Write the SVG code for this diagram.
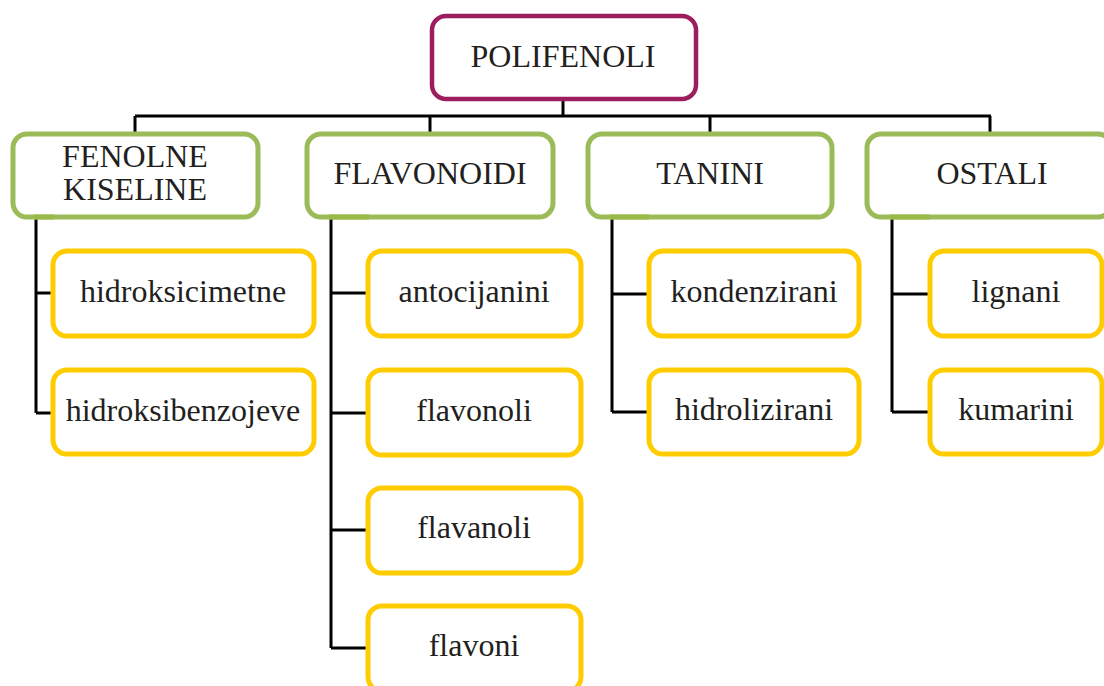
<svg xmlns="http://www.w3.org/2000/svg" width="1104" height="686" viewBox="0 0 1104 686">
<style>
.root{fill:#fff;stroke:#9C1E5E;stroke-width:4.5}
.cat{fill:#fff;stroke:#9BBB59;stroke-width:5}
.sub{fill:#fff;stroke:#FFCC00;stroke-width:5}
.mark{stroke:#9AB847;stroke-width:5}
.conn{fill:none;stroke:#000;stroke-width:3}
text{font-family:"Liberation Serif","Times New Roman",serif;font-size:32px;fill:#231F20;text-anchor:middle}
</style>
<rect width="1104" height="686" fill="#fff"/>
<g id="connectors">
<path class="conn" d="M563 99V116M135 116H991M135 116V134M430 116V134M710 116V134M990 116V134"/>
<path class="conn" d="M36 217V413M36 293H53M36 413H53"/>
<path class="conn" d="M331 217V648M331 293H368M331 413H368M331 530H368M331 648H368"/>
<path class="conn" d="M612 217V412M612 294H649M612 412H649"/>
<path class="conn" d="M892 217V412M892 294H930M892 412H930"/>
</g>
<g id="polifenoli"><rect class="root" x="432" y="16" width="264" height="83" rx="14"/><text x="563" y="67">POLIFENOLI</text></g>
<g id="fenolne"><rect class="cat" x="13" y="134" width="245" height="83" rx="14"/><line class="mark" x1="34" y1="217" x2="54" y2="217"/><text x="135" y="167">FENOLNE</text><text x="135" y="200">KISELINE</text></g>
<g id="flavonoidi"><rect class="cat" x="307" y="134" width="246" height="83" rx="14"/><line class="mark" x1="329" y1="217" x2="369" y2="217"/><text x="430" y="184">FLAVONOIDI</text></g>
<g id="tanini"><rect class="cat" x="588" y="134" width="244" height="83" rx="14"/><line class="mark" x1="610" y1="217" x2="649" y2="217"/><text x="710" y="184">TANINI</text></g>
<g id="ostali"><rect class="cat" x="867" y="134" width="245" height="83" rx="14"/><line class="mark" x1="890" y1="217" x2="930" y2="217"/><text x="992" y="184">OSTALI</text></g>
<g id="hidroksicimetne"><rect class="sub" x="53" y="251" width="261" height="85" rx="14"/><text x="183" y="302">hidroksicimetne</text></g>
<g id="hidroksibenzojeve"><rect class="sub" x="53" y="370" width="261" height="84" rx="14"/><text x="183" y="421">hidroksibenzojeve</text></g>
<g id="antocijanini"><rect class="sub" x="368" y="251" width="213" height="85" rx="14"/><text x="474" y="302">antocijanini</text></g>
<g id="flavonoli"><rect class="sub" x="368" y="370" width="213" height="85" rx="14"/><text x="474" y="421">flavonoli</text></g>
<g id="flavanoli"><rect class="sub" x="368" y="488" width="213" height="85" rx="14"/><text x="474" y="538">flavanoli</text></g>
<g id="flavoni"><rect class="sub" x="368" y="606" width="213" height="85" rx="14"/><text x="474" y="656">flavoni</text></g>
<g id="kondenzirani"><rect class="sub" x="649" y="251" width="210" height="85" rx="14"/><text x="754" y="302">kondenzirani</text></g>
<g id="hidrolizirani"><rect class="sub" x="649" y="370" width="210" height="84" rx="14"/><text x="754" y="420">hidrolizirani</text></g>
<g id="lignani"><rect class="sub" x="930" y="251" width="172" height="85" rx="14"/><text x="1016" y="302">lignani</text></g>
<g id="kumarini"><rect class="sub" x="930" y="370" width="172" height="84" rx="14"/><text x="1016" y="420">kumarini</text></g>
</svg>
